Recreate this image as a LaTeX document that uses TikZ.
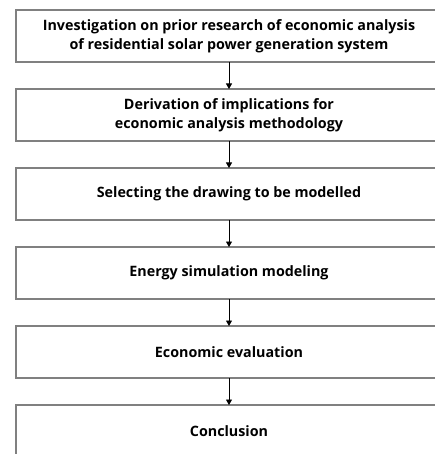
\documentclass[tikz,border=0pt]{standalone}
\usepackage{fontspec}
\setmainfont{Open Sans}
\usetikzlibrary{positioning, arrows.meta}

\begin{document}
\begin{tikzpicture}[x=1pt, y=-1pt,
  stage/.style={draw=black!50, line width=1.1pt, outer sep=0pt, minimum width=426pt, minimum height=52pt, inner sep=0pt, align=center, font=\bfseries\fontsize{14.3}{19}\selectfont},
  flow/.style={-{Triangle[length=5.5pt, width=6pt]}, line width=0.8pt},
  node distance=27pt]
  \useasboundingbox (0,0) rectangle (435,454);
  \node[stage, anchor=north west] (s1) at (16,10) {Investigation on prior research of economic analysis\\of residential solar power generation system};
  \node[stage, below=of s1] (s2) {Derivation of implications for\\economic analysis methodology};
  \node[stage, below=of s2] (s3) {Selecting the drawing to be modelled};
  \node[stage, below=of s3] (s4) {Energy simulation modeling};
  \node[stage, below=of s4] (s5) {Economic evaluation};
  \node[stage, below=of s5] (s6) {Conclusion};
  \foreach \a/\b in {s1/s2, s2/s3, s3/s4, s4/s5, s5/s6}
    \draw[flow] (\a) -- (\b);
\end{tikzpicture}
\end{document}
